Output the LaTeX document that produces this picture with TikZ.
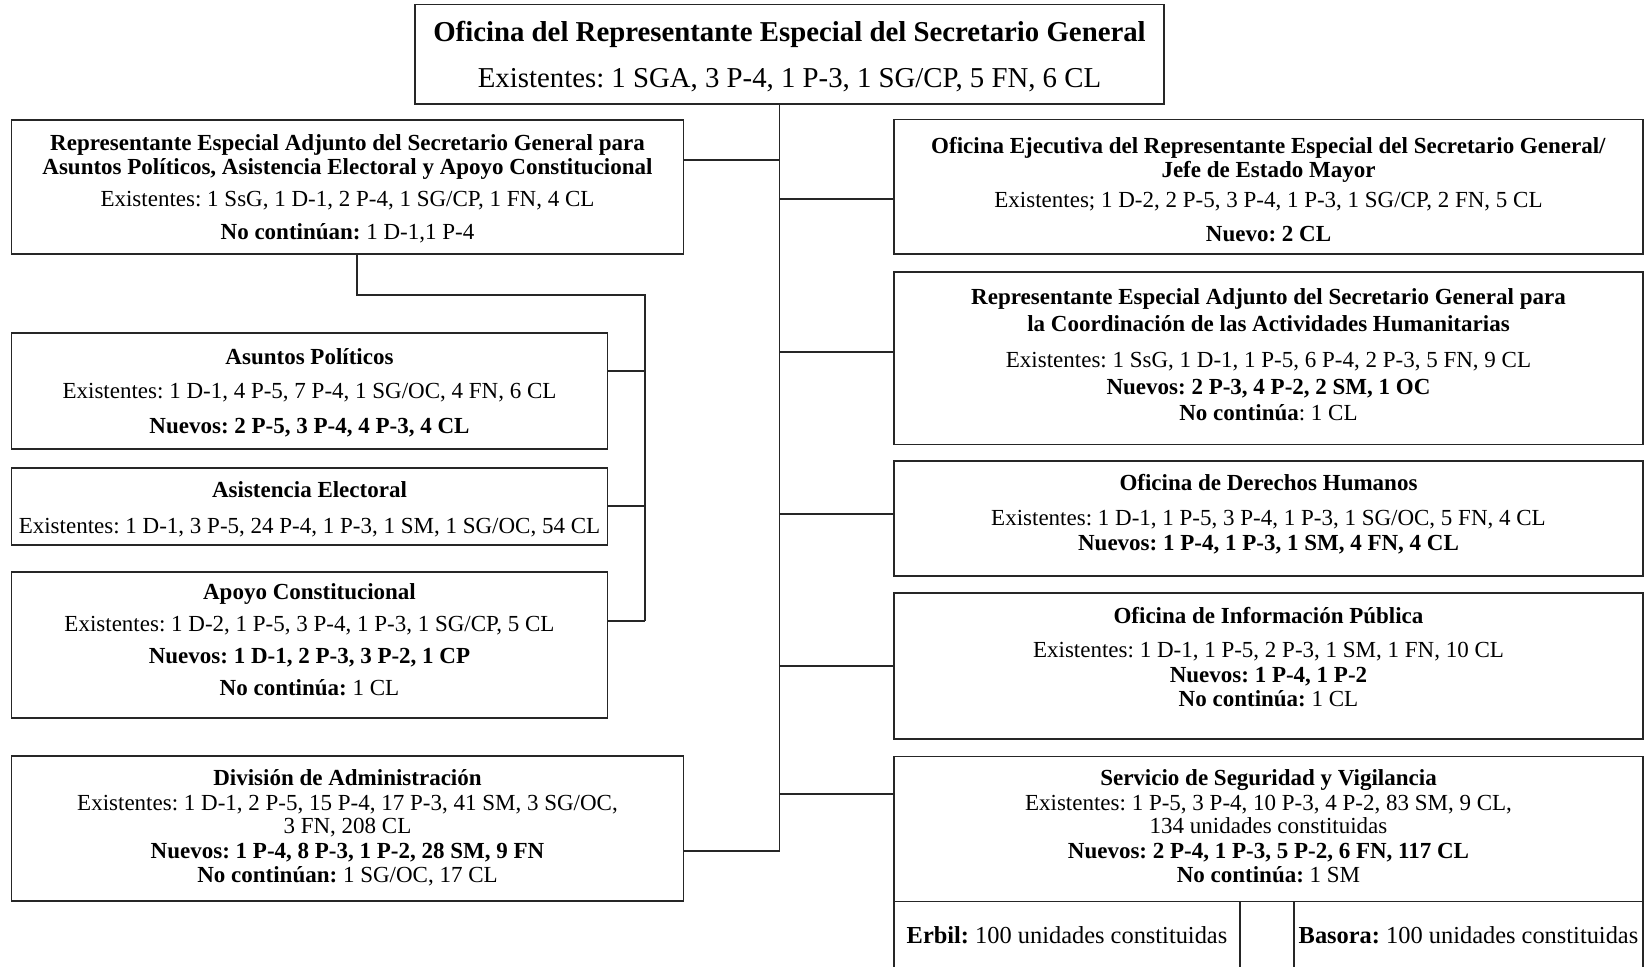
\documentclass[tikz,border=0pt]{standalone}
\usepackage{fontspec}
\setmainfont{Liberation Serif}
\usetikzlibrary{fit}
\begin{document}
\frenchspacing
\begin{tikzpicture}[x=0.5pt,y=-0.5pt,
  box/.style={draw=black!85, line width=0.65pt, inner sep=0pt, rectangle},
  ln/.style={draw=black!85, line width=0.65pt},
  txt/.style={inner sep=0pt, anchor=base, font=\fontsize{11.5}{13}\selectfont},
  cell/.style={inner sep=0pt, anchor=base, font=\fontsize{12.2}{14}\selectfont},
  big/.style={inner sep=0pt, anchor=base, font=\fontsize{14.4}{17}\selectfont}]
\useasboundingbox (0,0) rectangle (1646,966);

% boxes
\node[box, fit={(415,4.5)(1164,104)}] (top) {};
\node[box, fit={(11.5,120)(683.5,254)}] (adj) {};
\node[box, fit={(11.5,333)(607.5,449)}] (asu) {};
\node[box, fit={(11.5,468)(607.5,545)}] (ase) {};
\node[box, fit={(11.5,572)(607.5,718)}] (apo) {};
\node[box, fit={(11.5,756)(683.5,901)}] (adm) {};
\node[box, fit={(894,119.5)(1643,254)}] (eje) {};
\node[box, fit={(894,272)(1643,444.5)}] (hum) {};
\node[box, fit={(894,461)(1643,576)}] (dh) {};
\node[box, fit={(894,593)(1643,739)}] (inf) {};
\node[box, fit={(894,756.5)(1643,901.5)}] (seg) {};
\node[box, fit={(894,901.5)(1240,985)}] (erb) {};
\node[box, fit={(1240,901.5)(1294,985)}] (gap) {};
\node[box, fit={(1294,901.5)(1643,985)}] (bas) {};

% connector helper coordinates
\coordinate (tk) at (779.5,0);
\coordinate (bk) at (645,0);
\coordinate (ab) at (357,295);

% trunk
\draw[ln] (top.south -| tk) -- (tk |- 0,851);
\draw[ln] (adj.east |- 0,160) -- (tk |- 0,160);
\draw[ln] (adm.east |- 0,851) -- (tk |- 0,851);
\draw[ln] (tk |- 0,199) -- (eje.west |- 0,199);
\draw[ln] (tk |- 0,352) -- (hum.west |- 0,352);
\draw[ln] (tk |- 0,514) -- (dh.west |- 0,514);
\draw[ln] (tk |- 0,666) -- (inf.west |- 0,666);
\draw[ln] (tk |- 0,794) -- (seg.west |- 0,794);

% bracket under adj
\draw[ln] (adj.south -| ab) -- (ab) -- (bk |- ab) -- (bk |- 0,621);
\draw[ln] (asu.east |- 0,371) -- (bk |- 0,371);
\draw[ln] (ase.east |- 0,506) -- (bk |- 0,506);
\draw[ln] (apo.east |- 0,621) -- (bk |- 0,621);

% top texts
\node[big] (t1) at (789.5,41.5) {\textbf{Oficina del Representante Especial del Secretario General}};
\node[big] (t2) at (789.5,87) {Existentes: 1 SGA, 3 P-4, 1 P-3, 1 SG/CP, 5 FN, 6 CL};

% adj
\node[txt] (a1) at (347.5,150) {\textbf{Representante Especial Adjunto del Secretario General para}};
\node[txt] (a2) at (347.5,174) {\textbf{Asuntos Políticos, Asistencia Electoral y Apoyo Constitucional}};
\node[txt] (a3) at (347.5,206.5) {Existentes: 1 SsG, 1 D-1, 2 P-4, 1 SG/CP, 1 FN, 4 CL};
\node[txt] (a4) at (347.5,239) {\textbf{No continúan:} 1 D-1,1 P-4};

% asuntos politicos
\node[txt] (p1) at (309.5,364) {\textbf{Asuntos Políticos}};
\node[txt] (p2) at (309.5,398) {Existentes: 1 D-1, 4 P-5, 7 P-4, 1 SG/OC, 4 FN, 6 CL};
\node[txt] (p3) at (309.5,433) {\textbf{Nuevos: 2 P-5, 3 P-4, 4 P-3, 4 CL}};

% asistencia electoral
\node[txt] (e1) at (309.5,497) {\textbf{Asistencia Electoral}};
\node[txt] (e2) at (309.5,533) {Existentes: 1 D-1, 3 P-5, 24 P-4, 1 P-3, 1 SM, 1 SG/OC, 54 CL};

% apoyo constitucional
\node[txt] (c1) at (309.5,599.5) {\textbf{Apoyo Constitucional}};
\node[txt] (c2) at (309.5,631.5) {Existentes: 1 D-2, 1 P-5, 3 P-4, 1 P-3, 1 SG/CP, 5 CL};
\node[txt] (c3) at (309.5,663) {\textbf{Nuevos: 1 D-1, 2 P-3, 3 P-2, 1 CP}};
\node[txt] (c4) at (309.5,695) {\textbf{No continúa:} 1 CL};

% administracion
\node[txt] (d1) at (347.5,785.5) {\textbf{División de Administración}};
\node[txt] (d2) at (347.5,810) {Existentes: 1 D-1, 2 P-5, 15 P-4, 17 P-3, 41 SM, 3 SG/OC,};
\node[txt] (d3) at (347.5,833.5) {3 FN, 208 CL};
\node[txt] (d4) at (347.5,858) {\textbf{Nuevos: 1 P-4, 8 P-3, 1 P-2, 28 SM, 9 FN}};
\node[txt] (d5) at (347.5,882) {\textbf{No continúan:} 1 SG/OC, 17 CL};

% ejecutiva
\node[txt] (j1) at (1268.5,153) {\textbf{Oficina Ejecutiva del Representante Especial del Secretario General/}};
\node[txt] (j2) at (1268.5,177) {\textbf{Jefe de Estado Mayor}};
\node[txt] (j3) at (1268.5,207) {Existentes; 1 D-2, 2 P-5, 3 P-4, 1 P-3, 1 SG/CP, 2 FN, 5 CL};
\node[txt] (j4) at (1268.5,241.5) {\textbf{Nuevo: 2 CL}};

% humanitaria
\node[txt] (h1) at (1268.5,304) {\textbf{Representante Especial Adjunto del Secretario General para}};
\node[txt] (h2) at (1268.5,331.5) {\textbf{la Coordinación de las Actividades Humanitarias}};
\node[txt] (h3) at (1268.5,367.5) {Existentes: 1 SsG, 1 D-1, 1 P-5, 6 P-4, 2 P-3, 5 FN, 9 CL};
\node[txt] (h4) at (1268.5,394) {\textbf{Nuevos: 2 P-3, 4 P-2, 2 SM, 1 OC}};
\node[txt] (h5) at (1268.5,420.5) {\textbf{No continúa}: 1 CL};

% derechos humanos
\node[txt] (r1) at (1268.5,490.5) {\textbf{Oficina de Derechos Humanos}};
\node[txt] (r2) at (1268.5,525.5) {Existentes: 1 D-1, 1 P-5, 3 P-4, 1 P-3, 1 SG/OC, 5 FN, 4 CL};
\node[txt] (r3) at (1268.5,550.5) {\textbf{Nuevos: 1 P-4, 1 P-3, 1 SM, 4 FN, 4 CL}};

% informacion publica
\node[txt] (i1) at (1268.5,623) {\textbf{Oficina de Información Pública}};
\node[txt] (i2) at (1268.5,657.5) {Existentes: 1 D-1, 1 P-5, 2 P-3, 1 SM, 1 FN, 10 CL};
\node[txt] (i3) at (1268.5,682) {\textbf{Nuevos: 1 P-4, 1 P-2}};
\node[txt] (i4) at (1268.5,706) {\textbf{No continúa:} 1 CL};

% seguridad
\node[txt] (s1) at (1268.5,785.5) {\textbf{Servicio de Seguridad y Vigilancia}};
\node[txt] (s2) at (1268.5,810) {Existentes: 1 P-5, 3 P-4, 10 P-3, 4 P-2, 83 SM, 9 CL,};
\node[txt] (s3) at (1268.5,833.5) {134 unidades constituidas};
\node[txt] (s4) at (1268.5,858) {\textbf{Nuevos: 2 P-4, 1 P-3, 5 P-2, 6 FN, 117 CL}};
\node[txt] (s5) at (1268.5,882) {\textbf{No continúa:} 1 SM};

% cells
\node[cell] (eb) at (1067,943.5) {\textbf{Erbil:} 100 unidades constituidas};
\node[cell] (bs) at (1468.5,943.5) {\textbf{Basora:} 100 unidades constituidas};
\end{tikzpicture}
\end{document}
